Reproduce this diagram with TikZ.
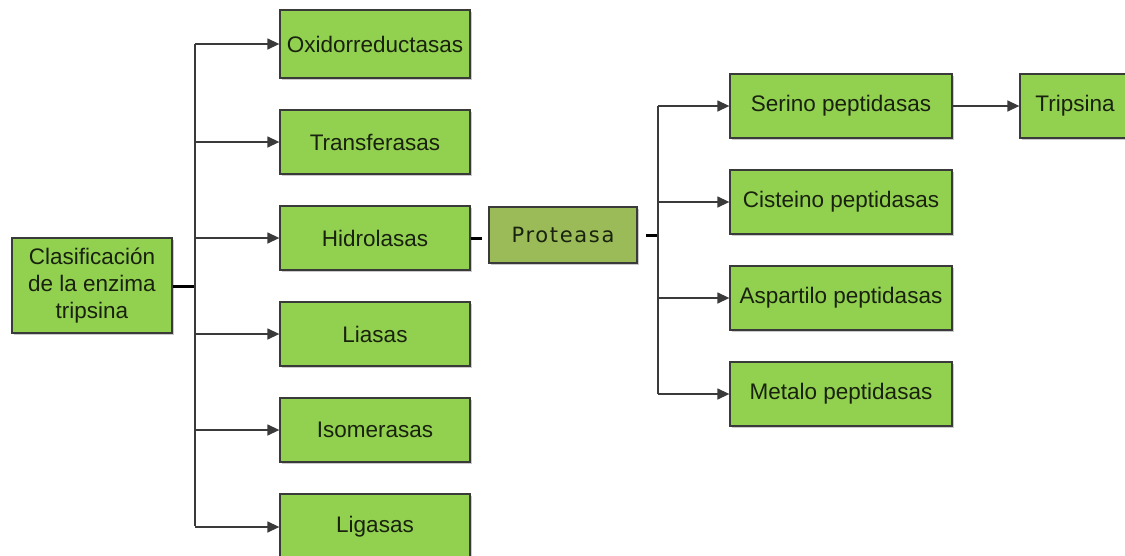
\documentclass[tikz,border=0pt]{standalone}
\usepackage{fontspec}
\setmainfont{Liberation Sans}
\newfontfamily\protfont[LetterSpace=8]{DejaVu Sans}
\usetikzlibrary{arrows.meta,shadows}
\definecolor{boxgreen}{HTML}{92D050}
\definecolor{boxolive}{HTML}{9BBB59}
\definecolor{edgegray}{HTML}{3A3A3A}
\definecolor{txt}{HTML}{18220F}
\tikzset{
  every node/.style={inner sep=0pt},
  gbox/.style={draw=edgegray, line width=1.3pt, fill=boxgreen,
    drop shadow={shadow xshift=2pt, shadow yshift=-2pt, opacity=0.35, fill=black!60},
    text=txt, font=\fontsize{22.5}{27}\selectfont, align=center},
  pbox/.style={gbox, fill=boxolive, font=\protfont\fontsize{21}{27}\selectfont},
  link/.style={draw=edgegray, line width=1.4pt},
  arrowlink/.style={link, -{Triangle[length=12pt,width=11pt]}},
  stub/.style={draw=black, line width=3pt},
}
\begin{document}
\begin{tikzpicture}[x=1pt,y=-1pt]
\useasboundingbox (0,0) rectangle (1125,555);
\clip (0,0) rectangle (1125,555);
% root box
\node[gbox, minimum width=160pt, minimum height=95pt] (root) at (92,285.5)
  {Clasificación\\de la enzima\\tripsina};
% enzyme classes
\node[gbox, minimum width=190pt, minimum height=68pt] (oxi) at (375,44) {Oxidorreductasas};
\node[gbox, minimum width=190pt, minimum height=64pt] (tra) at (375,142) {Transferasas};
\node[gbox, minimum width=190pt, minimum height=64pt] (hid) at (375,238) {Hidrolasas};
\node[gbox, minimum width=190pt, minimum height=64pt] (lia) at (375,334) {Liasas};
\node[gbox, minimum width=190pt, minimum height=64pt] (iso) at (375,430) {Isomerasas};
\node[gbox, minimum width=190pt, minimum height=66pt] (lig) at (375,527) {Ligasas};
% protease
\node[pbox, minimum width=148pt, minimum height=56pt] (pro) at (563,235) {Proteasa};
% peptidase families
\node[gbox, minimum width=222pt, minimum height=64pt] (ser) at (841,106) {Serino peptidasas};
\node[gbox, minimum width=222pt, minimum height=64pt] (cis) at (841,202) {Cisteino peptidasas};
\node[gbox, minimum width=222pt, minimum height=64pt] (asp) at (841,298) {Aspartilo peptidasas};
\node[gbox, minimum width=222pt, minimum height=64pt] (met) at (841,394) {Metalo peptidasas};
\node[gbox, minimum width=110pt, minimum height=64pt] (tri) at (1075,106) {Tripsina};
% trunk joints
\coordinate (j1) at (195,286);
\coordinate (j2) at (658,235);
% left tree
\draw[stub] (root.east |- j1) -- (j1);
\draw[link] (195,44) -- (195,526);
\foreach \n in {oxi,tra,hid,lia,iso,lig}
  \draw[arrowlink] (j1 |- \n.west) -- (\n.west);
% hidrolasas to proteasa
\coordinate (h1) at (482,238);
\draw[stub] (hid.east) -- (h1);
% right tree
\coordinate (p1) at (646,235);
\draw[stub] (p1) -- (j2);
\draw[link] (658,106) -- (658,394);
\foreach \n in {ser,cis,asp,met}
  \draw[arrowlink] (j2 |- \n.west) -- (\n.west);
\draw[arrowlink] (ser.east) -- (tri.west);
\end{tikzpicture}
\end{document}
